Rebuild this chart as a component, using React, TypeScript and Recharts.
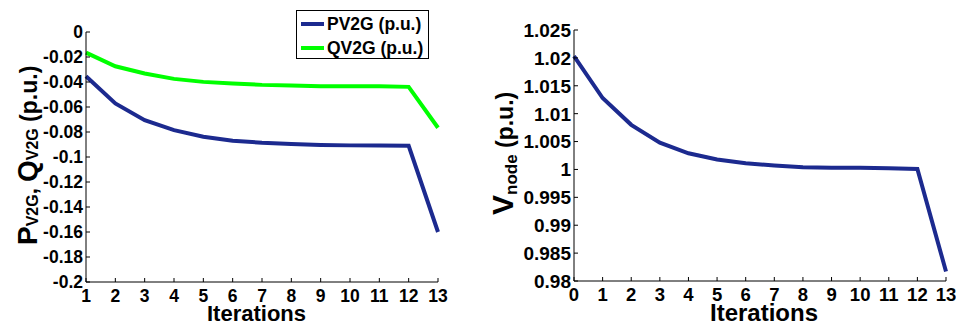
import React from 'react';
import { LineChart, Line, XAxis, YAxis, Legend } from 'recharts';

const iterLeft = [1, 2, 3, 4, 5, 6, 7, 8, 9, 10, 11, 12, 13];
const pv2g = [-0.0354, -0.0572, -0.0705, -0.0785, -0.0838, -0.087, -0.0886, -0.0896, -0.0904, -0.0907, -0.0907, -0.091, -0.16];
const qv2g = [-0.0165, -0.0274, -0.0332, -0.0375, -0.0399, -0.0412, -0.0423, -0.0428, -0.0434, -0.0434, -0.0434, -0.0439, -0.0766];

const iterRight = [0, 1, 2, 3, 4, 5, 6, 7, 8, 9, 10, 11, 12, 13];
const vnode = [1.0203, 1.0128, 1.008, 1.0048, 1.0029, 1.0018, 1.0011, 1.0007, 1.0004, 1.0003, 1.0003, 1.0002, 1.0001, 0.9817];

const leftYTicks = [0, -0.02, -0.04, -0.06, -0.08, -0.1, -0.12, -0.14, -0.16, -0.18, -0.2];
const leftYLabels = ['0', '-0.02', '-0.04', '-0.06', '-0.08', '-0.1', '-0.12', '-0.14', '-0.16', '-0.18', '-0.2'];
const rightYTicks = [0.98, 0.985, 0.99, 0.995, 1, 1.005, 1.01, 1.015, 1.02, 1.025];
const rightYLabels = ['0.98', '0.985', '0.99', '0.995', '1', '1.005', '1.01', '1.015', '1.02', '1.025'];

const seriesNames = { pv2g: 'PV2G (p.u.)', qv2g: 'QV2G (p.u.)' };
const BLUE = '#1c2a8f';
const GREEN = '#00ff00';
const FONT = '"Liberation Sans", Arial, sans-serif';

const leftData = iterLeft.map((it, i) => ({ it, pv2g: pv2g[i], qv2g: qv2g[i] }));
const rightData = iterRight.map((it, i) => ({ it, vnode: vnode[i] }));

const labelFor = (ticks: number[], labels: string[], v: number) => {
  const idx = ticks.findIndex((t) => Math.abs(t - v) < 1e-9);
  return idx >= 0 ? labels[idx] : String(v);
};

const makeYTick = (ticks: number[], labels: string[], fontSize: number) => (props: any) => {
  const { x, y, payload } = props;
  return (
    <g>
      <line x1={x} x2={x + 4} y1={y} y2={y} stroke="#000" strokeWidth={1} />
      <text x={x - 3} y={y} dy="0.36em" textAnchor="end" fontSize={fontSize} fontWeight="bold" fontFamily={FONT} fill="#000">
        {labelFor(ticks, labels, payload.value)}
      </text>
    </g>
  );
};

const makeXTick = (fontSize: number, dy: number) => (props: any) => {
  const { x, y, payload } = props;
  return (
    <g>
      <line x1={x} x2={x} y1={y} y2={y - 4} stroke="#000" strokeWidth={1} />
      <text x={x} y={y + dy} textAnchor="middle" fontSize={fontSize} fontWeight="bold" fontFamily={FONT} fill="#000">
        {String(payload.value)}
      </text>
    </g>
  );
};

const LegendBox = (props: any) => {
  const payload = props.payload || [];
  return (
    <div style={{ position: 'relative', width: 131, height: 47, border: '1px solid #000', background: '#fff', fontFamily: FONT, fontWeight: 'bold', fontSize: 17.5, color: '#000' }}>
      {payload.map((p: any, i: number) => (
        <div key={i} style={{ position: 'absolute', left: 0, top: 1 + i * 24, height: 24, width: 131 }}>
          <div style={{ position: 'absolute', left: 4, top: 10, width: 23, height: 4, background: p.color }} />
          <div style={{ position: 'absolute', left: 30, top: 1, lineHeight: '22px', whiteSpace: 'nowrap' }}>{p.value}</div>
        </div>
      ))}
    </div>
  );
};

export default function App() {
  return (
    <div style={{ position: 'absolute', left: 0, top: 0, width: 956, height: 325, background: '#fff' }}>
      <div style={{ position: 'absolute', left: 0, top: 0 }}>
        <LineChart width={470} height={325} data={leftData} margin={{ top: 32, right: 32, left: 0, bottom: 0 }}>
          <XAxis
            dataKey="it"
            type="number"
            domain={[1, 13]}
            ticks={iterLeft}
            interval={0}
            height={43}
            tickSize={0}
            tickMargin={0}
            tickLine={false}
            axisLine={{ stroke: '#000', strokeWidth: 1 }}
            tick={makeXTick(17.5, 20)}
            label={{
              content: () => (
                <text x={256.5} y={321} textAnchor="middle" fontSize={22} fontWeight="bold" fontFamily={FONT} fill="#000">Iterations</text>
              ),
            }}
          />
          <YAxis
            type="number"
            domain={[-0.2, 0]}
            ticks={leftYTicks}
            interval={0}
            width={86}
            tickSize={0}
            tickMargin={0}
            tickLine={false}
            axisLine={{ stroke: '#000', strokeWidth: 1 }}
            tick={makeYTick(leftYTicks, leftYLabels, 17.5)}
            label={{
              content: () => (
                <text transform="translate(37,245) rotate(-90)" x={0} y={0} textAnchor="start" fontWeight="bold" fontFamily={FONT} fill="#000">
                  <tspan fontSize={28}>P</tspan>
                  <tspan fontSize={16} dy={1}>V2G</tspan>
                  <tspan fontSize={22} dy={-1}>, </tspan>
                  <tspan fontSize={28}>Q</tspan>
                  <tspan fontSize={16} dy={1}>V2G</tspan>
                  <tspan fontSize={23} dy={-1}> (p.u.)</tspan>
                </text>
              ),
            }}
          />
          <Legend
            layout="horizontal"
            verticalAlign="middle"
            align="center"
            content={<LegendBox />}
            wrapperStyle={{ position: 'absolute', left: 296, top: 10, width: 133, height: 49 }}
          />
          <Line type="linear" dataKey="pv2g" name={seriesNames.pv2g} stroke={BLUE} strokeWidth={4} dot={false} isAnimationActive={false} />
          <Line type="linear" dataKey="qv2g" name={seriesNames.qv2g} stroke={GREEN} strokeWidth={4} dot={false} isAnimationActive={false} />
        </LineChart>
      </div>
      <div style={{ position: 'absolute', left: 470, top: 0 }}>
        <LineChart width={486} height={325} data={rightData} margin={{ top: 30, right: 10, left: 0, bottom: 0 }}>
          <XAxis
            dataKey="it"
            type="number"
            domain={[0, 13]}
            ticks={iterRight}
            interval={0}
            height={44}
            tickSize={0}
            tickMargin={0}
            tickLine={false}
            axisLine={{ stroke: '#000', strokeWidth: 1 }}
            tick={makeXTick(18.5, 20)}
            label={{
              content: () => (
                <text x={294} y={321} textAnchor="middle" fontSize={24} fontWeight="bold" fontFamily={FONT} fill="#000">Iterations</text>
              ),
            }}
          />
          <YAxis
            type="number"
            domain={[0.98, 1.025]}
            ticks={rightYTicks}
            interval={0}
            width={104}
            tickSize={0}
            tickMargin={0}
            tickLine={false}
            axisLine={{ stroke: '#000', strokeWidth: 1 }}
            tick={makeYTick(rightYTicks, rightYLabels, 19)}
            label={{
              content: () => (
                <text transform="translate(43,215) rotate(-90)" x={0} y={0} textAnchor="start" fontWeight="bold" fontFamily={FONT} fill="#000">
                  <tspan fontSize={30}>V</tspan>
                  <tspan fontSize={17} dy={4}>node</tspan>
                  <tspan fontSize={23} dy={-4}> (p.u.)</tspan>
                </text>
              ),
            }}
          />
          <Line type="linear" dataKey="vnode" name="Vnode" stroke={BLUE} strokeWidth={4} dot={false} isAnimationActive={false} />
        </LineChart>
      </div>
    </div>
  );
}
